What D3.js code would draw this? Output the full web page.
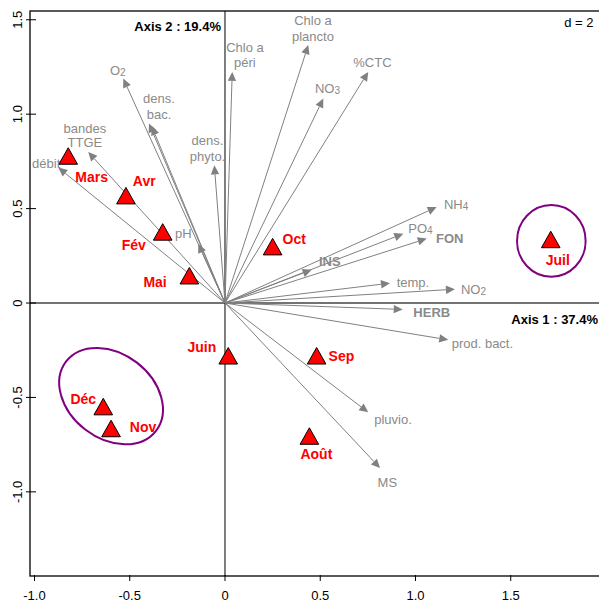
<!DOCTYPE html>
<html>
<head>
<meta charset="utf-8">
<script src="https://cdn.jsdelivr.net/npm/d3@7"></script>
<style>
  html, body { margin: 0; padding: 0; background: #fff; }
  svg { display: block; font-family: "Liberation Sans", Arial, Helvetica, sans-serif; }
</style>
</head>
<body>
<svg id="chart" width="599" height="601"></svg>
<script>
// ---------------- DATA ----------------
const months = ["Mars","Avr","Fév","Mai","Oct","Juin","Sep","Août","Juil","Déc","Nov"];
const monthX = [-0.823,-0.520,-0.327,-0.187,0.250,0.017,0.481,0.443,1.710,-0.639,-0.598];
const monthY = [0.764,0.554,0.362,0.130,0.284,-0.294,-0.294,-0.719,0.322,-0.563,-0.679];

// "_" marks a subscript digit, "\n" a line break
const varNames = ["O_2","dens.\nbac.","","Chlo a\npéri","dens.\nphyto.","Chlo a\nplancto","NO_3","%CTC",
                  "NH_4","PO_4","FON","INS","temp.","NO_2","HERB","prod. bact.","pluvio.","MS","pH",
                  "bandes\nTTGE","débit"];
const varX = [-0.534,-0.399,-0.385,0.038,-0.056,0.437,0.516,0.752,
              1.111,0.936,1.059,0.455,0.866,1.207,0.933,1.172,0.752,0.814,-0.140,
              -0.718,-0.875];
const varY = [1.189,0.951,0.937,1.224,0.729,1.366,1.083,1.224,
              0.508,0.367,0.341,0.176,0.105,0.073,-0.034,-0.195,-0.579,-0.874,0.314,
              0.800,0.717];
const varBold = ["FON","INS","HERB"];

// groups (ellipses): center, semi-axes, rotation (deg, clockwise on screen)
const groupNames = ["Déc–Nov","Juil"];
const groupCX = [-0.598, 1.713];
const groupCY = [-0.493, 0.329];
const groupA  = [0.298, 0.180];
const groupB  = [0.224, 0.190];
const groupAngle = [37.7, 0];

const xTicks = [-1.0,-0.5,0,0.5,1.0,1.5];
const yTicks = [-1.0,-0.5,0,0.5,1.0,1.5];
const xTickLabels = ["-1.0","-0.5","0","0.5","1.0","1.5"];
const yTickLabels = ["-1.0","-0.5","0","0.5","1.0","1.5"];

const axis1Label = "Axis 1 : 37.4%";
const axis2Label = "Axis 2 : 19.4%";
const scaleLabel = "d = 2";

// ---------------- LAYOUT (pixels) ----------------
// month label centre offsets from point
const monthLabelOff = [[23.4,18.3],[18.3,-17],[-29,10],[-34.3,3.7],[21.6,-10.6],[-26.3,-11.2],
                       [24.8,-2.9],[7,15.3],[7.1,18.2],[-20,-10.4],[32,-4.5]];
// variable label: [dx, dy (centre of first line), anchor, line gap]
const varLabelOff = [
  [-5.5,-8.3,"middle",0],[10,-25,"middle",16],[0,0,"middle",0],[12.7,-25,"middle",15.6],
  [-6.8,-25,"middle",16],[4.7,-24.3,"middle",16],[4.2,-10,"middle",0],[4.2,-9.4,"middle",0],
  [7.3,-2.7,"start",0],[5,-5,"start",0],[9.3,0,"start",0],[7.3,-8.6,"start",0],
  [6.7,-1,"start",0],[6,0,"start",0],[10.6,3.3,"start",0],[3.4,3,"start",0],
  [6,7.3,"start",0],[7.3,14.4,"middle",0],[-15,-10,"middle",0],[-3.3,-23.8,"middle",14],
  [-12.1,-4,"middle",0]
];

const svg = d3.select("#chart");
const pL = 30, pT = 11, pB = 576, pR = 600;

const x = d3.scaleLinear().domain([-1.0236, 1.9685]).range([pL, pR]);
const y = d3.scaleLinear().domain([-1.4456, 1.5464]).range([pB, pT]);

const greyLine = "#808080";
const greyText = "#8a8a8a";
const font = 13;

// zero lines
svg.append("line").attr("x1", pL).attr("x2", pR).attr("y1", y(0)).attr("y2", y(0))
  .attr("stroke", "#444").attr("stroke-width", 1.3);
svg.append("line").attr("x1", x(0)).attr("x2", x(0)).attr("y1", pT).attr("y2", pB)
  .attr("stroke", "#000").attr("stroke-width", 1);

// box
svg.append("rect").attr("x", pL).attr("y", pT).attr("width", pR - pL).attr("height", pB - pT)
  .attr("fill", "none").attr("stroke", "#000").attr("stroke-width", 1.3);

// ticks
svg.selectAll(".xt").data(xTicks).join("line")
  .attr("x1", d => x(d)).attr("x2", d => x(d)).attr("y1", pB - 1).attr("y2", pB + 5)
  .attr("stroke", "#000").attr("stroke-width", 1);
svg.selectAll(".xtl").data(xTicks).join("text")
  .attr("x", d => x(d)).attr("y", 599.5).attr("text-anchor", "middle")
  .attr("font-size", font).attr("fill", "#000").text((d, i) => xTickLabels[i]);
svg.selectAll(".yt").data(yTicks).join("line")
  .attr("y1", d => y(d)).attr("y2", d => y(d)).attr("x1", pL - 4).attr("x2", pL + 6)
  .attr("stroke", "#000").attr("stroke-width", 1);
svg.selectAll(".ytl").data(yTicks).join("text")
  .attr("transform", d => `translate(21.5,${y(d)}) rotate(-90)`).attr("text-anchor", "middle")
  .attr("font-size", font).attr("fill", "#000").text((d, i) => yTickLabels[i]);

// arrows
const vars = varNames.map((n, i) => ({name: n, x: varX[i], y: varY[i], off: varLabelOff[i]}));
const ox = x(0), oy = y(0);
const headLen = 9, headHalf = 4.2;
vars.forEach(v => {
  const tx = x(v.x), ty = y(v.y);
  const dx = tx - ox, dy = ty - oy, len = Math.hypot(dx, dy);
  const ux = dx / len, uy = dy / len;
  const bx = tx - ux * headLen, by = ty - uy * headLen;
  svg.append("line").attr("x1", ox).attr("y1", oy).attr("x2", bx).attr("y2", by)
    .attr("stroke", greyLine).attr("stroke-width", 1);
  svg.append("polygon")
    .attr("points", [[tx, ty], [bx - uy * headHalf, by + ux * headHalf], [bx + uy * headHalf, by - ux * headHalf]]
      .map(p => p.join(",")).join(" "))
    .attr("fill", greyLine).attr("stroke", "none");
});

// variable labels
vars.forEach(v => {
  if (!v.name) return;
  const [odx, ody, anchor, gap] = v.off;
  const bold = varBold.includes(v.name);
  const lines = v.name.split("\n");
  lines.forEach((ln, li) => {
    const t = svg.append("text")
      .attr("x", x(v.x) + odx).attr("y", y(v.y) + ody + 4.7 + li * gap)
      .attr("text-anchor", anchor).attr("font-size", font)
      .attr("font-weight", bold ? "bold" : "normal").attr("fill", greyText);
    const parts = ln.split("_");
    t.append("tspan").text(parts[0]);
    if (parts.length > 1) {
      t.append("tspan").attr("font-size", 10).attr("dy", 1).text(parts[1]);
    }
  });
});

// ellipses
groupNames.forEach((g, i) => {
  const cx = x(groupCX[i]), cy = y(groupCY[i]);
  const rx = x(groupCX[i] + groupA[i]) - cx;
  const ry = y(groupCY[i]) - y(groupCY[i] + groupB[i]);
  svg.append("ellipse").attr("cx", cx).attr("cy", cy).attr("rx", rx).attr("ry", ry)
    .attr("transform", `rotate(${groupAngle[i]},${cx},${cy})`)
    .attr("fill", "none").attr("stroke", "#800080").attr("stroke-width", 2);
});

// month points (triangles)
const r = 11, hw = 9.3;
months.forEach((m, i) => {
  const px = x(monthX[i]), py = y(monthY[i]);
  svg.append("polygon")
    .attr("points", `${px},${py - r} ${px + hw},${py + r / 2} ${px - hw},${py + r / 2}`)
    .attr("fill", "#ff0000").attr("stroke", "#000").attr("stroke-width", 1);
});
months.forEach((m, i) => {
  const px = x(monthX[i]), py = y(monthY[i]);
  svg.append("text").attr("x", px + monthLabelOff[i][0]).attr("y", py + monthLabelOff[i][1] + 5)
    .attr("text-anchor", "middle").attr("font-size", 14).attr("font-weight", "bold")
    .attr("fill", "#ff0000").text(m);
});

// axis annotations
svg.append("text").attr("x", x(0) - 4).attr("y", 30.5).attr("text-anchor", "end")
  .attr("font-size", font).attr("font-weight", "bold").attr("fill", "#000").text(axis2Label);
svg.append("text").attr("x", 598).attr("y", 324).attr("text-anchor", "end")
  .attr("font-size", font).attr("font-weight", "bold").attr("fill", "#000").text(axis1Label);
svg.append("text").attr("x", 593.5).attr("y", 26.5).attr("text-anchor", "end")
  .attr("font-size", font).attr("fill", "#000").text(scaleLabel);
</script>
</body>
</html>
